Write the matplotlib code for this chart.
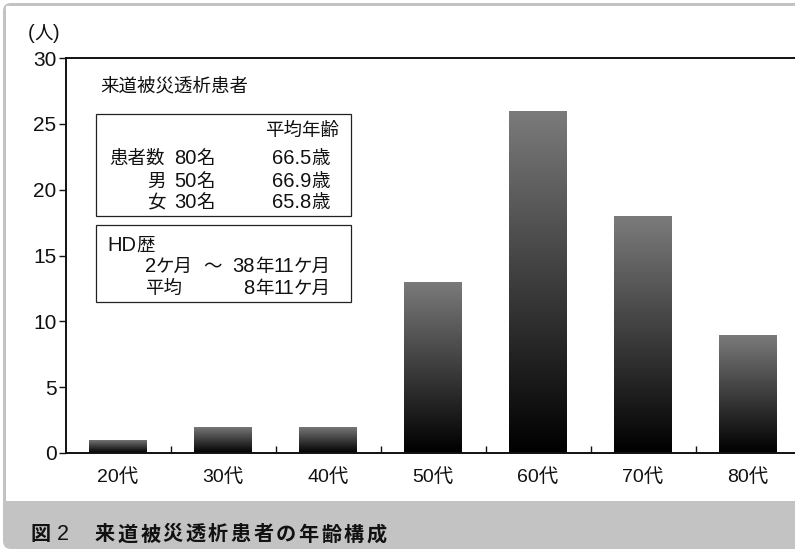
import numpy as np
import matplotlib
matplotlib.use('Agg')
import matplotlib.pyplot as plt
from matplotlib.patches import Rectangle, FancyBboxPatch
from matplotlib.transforms import IdentityTransform
from matplotlib.colors import LinearSegmentedColormap

plt.rcParams['font.family'] = ['Liberation Sans', 'Noto Sans CJK JP']

# age groups and patient counts
ages = ['20代', '30代', '40代', '50代', '60代', '70代', '80代']
counts = [1, 2, 2, 13, 26, 18, 9]
yticks = [0, 5, 10, 15, 20, 25, 30]

W, H = 795, 551
INK = '#111111'
fig = plt.figure(figsize=(W / 100, H / 100), dpi=100)
fig.patch.set_facecolor('white')
renderer = fig.canvas.get_renderer()

# outer frame and caption band
outer = FancyBboxPatch((3, 2), 820, 546, boxstyle='round,pad=0,rounding_size=8',
                       transform=IdentityTransform(), facecolor='#c3c3c3',
                       edgecolor='none', zorder=-2)
inner = Rectangle((6, 50), 820, 495, transform=IdentityTransform(),
                  facecolor='white', edgecolor='none', zorder=-1)
fig.patches.extend([outer, inner])

ax = fig.add_axes([65.5 / W, (H - 453) / H, 735 / W, 395 / H])
ax.set_facecolor('none')

# gradient bars
cmap = LinearSegmentedColormap.from_list('bar', ['#000000', '#7b7b7b'])
grad = np.linspace(0, 1, 256).reshape(-1, 1)
bars = ax.bar(range(len(ages)), counts, width=0.545, facecolor='none',
              edgecolor='none')
for b in bars:
    x0, y0 = b.get_x(), b.get_y()
    im = ax.imshow(grad, cmap=cmap, origin='lower', aspect='auto',
                   extent=(x0, x0 + b.get_width(), y0, y0 + b.get_height()),
                   zorder=2)
    im.set_clip_path(b)
ax.set_xlim(-0.5, 6.5)
ax.set_ylim(0, 30)

for s in ['left', 'bottom', 'top']:
    ax.spines[s].set_linewidth(1.4)
    ax.spines[s].set_color(INK)
ax.spines['right'].set_visible(False)

ax.set_yticks(yticks)
ax.tick_params(axis='y', direction='out', length=5, width=1, pad=1.5,
               labelsize=15, colors=INK)
ax.set_xticks(np.arange(0.5, 6.5, 1))
ax.set_xticklabels([])
ax.tick_params(axis='x', which='major', direction='in', length=5, width=1,
               colors=INK)
ax.set_xticks(range(len(ages)), minor=True)
ax.set_xticklabels(ages, minor=True)
ax.tick_params(axis='x', which='minor', length=0, pad=11, labelsize=14,
               labelcolor=INK)


def mixed(x, y, s, ha='left', cjk=13.3, lat=14.5):
    """Write s with baseline at pixel (x, y) from top-left; latin runs are
    set a little larger than the kanji runs."""
    runs = []
    for ch in s:
        kind = 'sp' if ch == ' ' else ('lat' if ord(ch) < 128 else 'cjk')
        if runs and runs[-1][0] == kind:
            runs[-1][1] += ch
        else:
            runs.append([kind, ch])
    arts, widths = [], []
    for kind, txt in runs:
        if kind == 'sp':
            arts.append(None)
            widths.append(9 * len(txt))
            continue
        a = fig.text(0, 0, txt, fontsize=lat if kind == 'lat' else cjk,
                     va='baseline', ha='left', color=INK,
                     transform=IdentityTransform())
        arts.append(a)
        widths.append(a.get_window_extent(renderer).width)
    total = sum(widths)
    cur = {'left': x, 'right': x - total, 'center': x - total / 2}[ha]
    for a, w in zip(arts, widths):
        if a is not None:
            a.set_position((cur, H - y))
        cur += w


mixed(44, 39, '(人)', ha='center')
mixed(100, 91, '来道被災透析患者')

# info boxes
for (x0, y0, x1, y1) in [(96, 114, 351, 216), (96, 225, 351, 302)]:
    fig.patches.append(Rectangle((x0, H - y1), x1 - x0, y1 - y0,
                                 transform=IdentityTransform(),
                                 facecolor='white', edgecolor='#222222',
                                 linewidth=0.9, zorder=2))

mixed(265, 136, '平均年齢')
mixed(215, 164, '患者数 80名', ha='right')
mixed(215, 187, '男 50名', ha='right')
mixed(215, 208, '女 30名', ha='right')
mixed(330, 164, '66.5歳', ha='right')
mixed(330, 187, '66.9歳', ha='right')
mixed(330, 208, '65.8歳', ha='right')

mixed(107, 251, 'HD歴')
mixed(145, 272, '2ケ月')
mixed(212, 272, '〜', ha='center')
mixed(331, 272, '38年11ケ月', ha='right')
mixed(145, 294, '平均')
mixed(331, 294, '8年11ケ月', ha='right')

# caption, set with slightly open letter spacing
fig.text(31 / W, 1 - 535 / H, '図', fontsize=14.5, fontweight='bold',
         ha='left', va='center', color=INK)
fig.text(57 / W, 1 - 535 / H, '2', fontsize=15.5, ha='left', va='center',
         color=INK)
for i, ch in enumerate('来道被災透析患者の年齢構成'):
    fig.text((95 + 22.6 * i) / W, 1 - 535 / H, ch, fontsize=14.5,
             fontweight='bold', ha='left', va='center', color=INK)

fig.savefig('out.png', dpi=100)
